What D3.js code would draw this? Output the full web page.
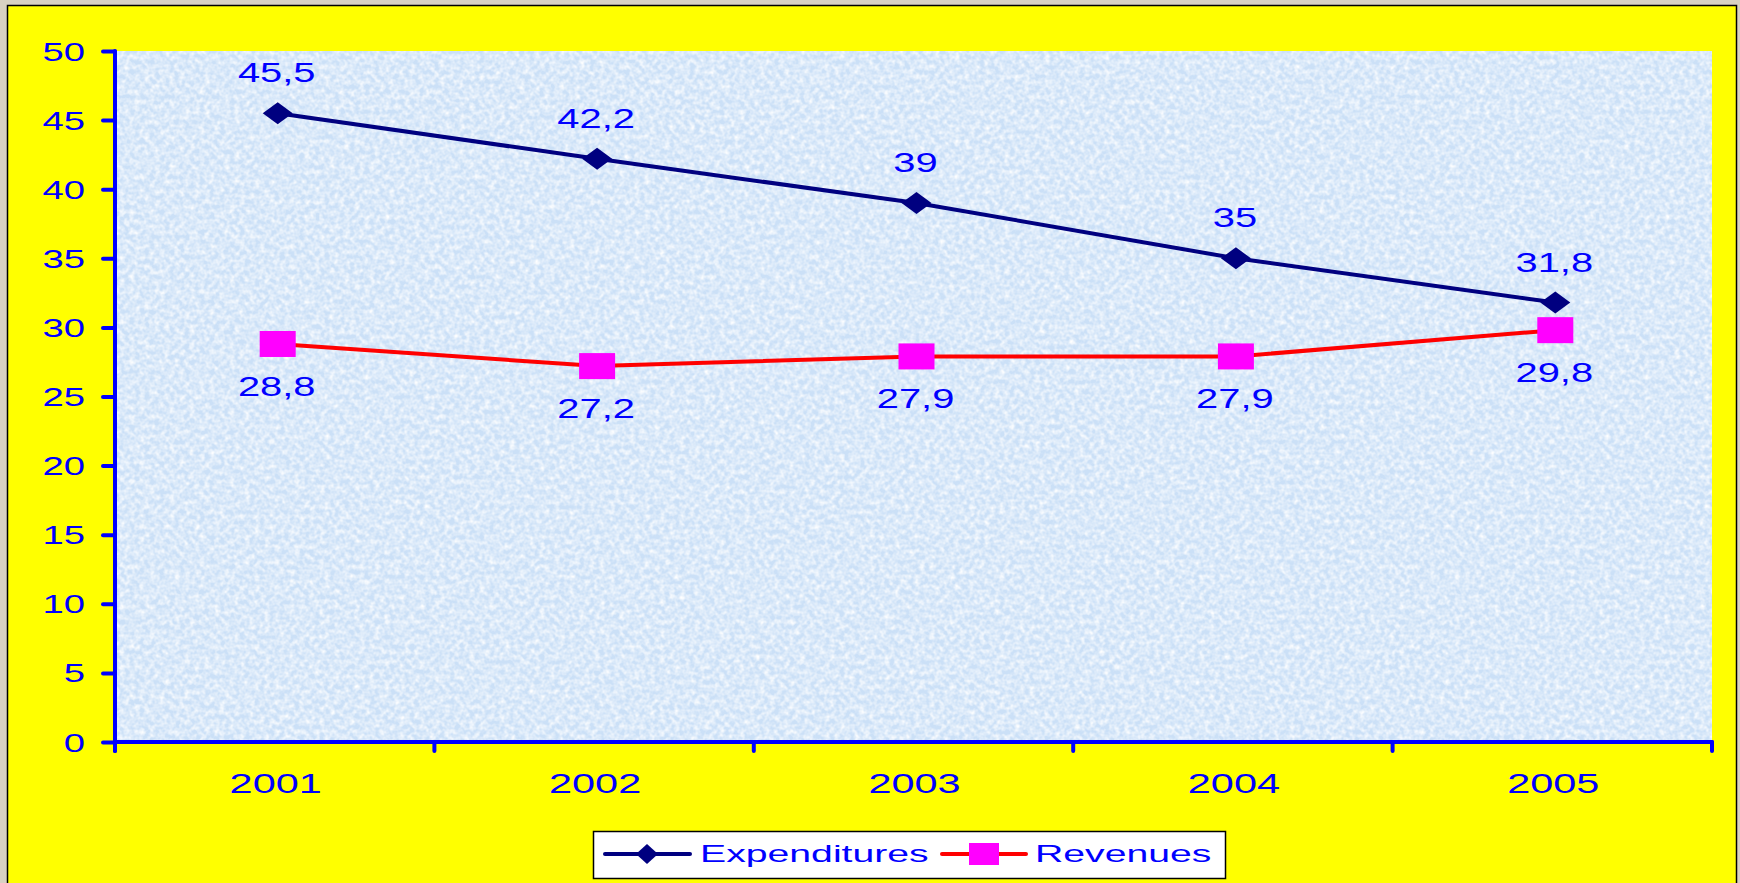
<!DOCTYPE html>
<html>
<head>
<meta charset="utf-8">
<script src="https://cdn.jsdelivr.net/npm/d3@7"></script>
<style>
  html, body { margin: 0; padding: 0; background: #d8d1c2; }
  svg { display: block; }
  text { font-family: "Liberation Sans", Arial, sans-serif; fill: #0000ff; }
</style>
</head>
<body>
<svg id="chart" width="1740" height="883"></svg>
<script>
// Budget figures by year
const years = ["2001", "2002", "2003", "2004", "2005"];
const expenditures = [45.5, 42.2, 39, 35, 31.8];
const revenues = [28.8, 27.2, 27.9, 27.9, 29.8];
const yTicks = [0, 5, 10, 15, 20, 25, 30, 35, 40, 45, 50];
const seriesNames = ["Expenditures", "Revenues"];

const W = 1740, H = 883;
const plot = { left: 115, right: 1712, top: 51, bottom: 742 };
const BLUE = "#0000ff", NAVY = "#000080", RED = "#ff0000", MAGENTA = "#ff00ff";
const fmt = d => String(d).replace(".", ",");

const svg = d3.select("#chart");
const defs = svg.append("defs");

// mottled light-blue fill for the plotting area
const f = defs.append("filter").attr("id", "mottle")
  .attr("x", 0).attr("y", 0).attr("width", "100%").attr("height", "100%");
f.append("feTurbulence").attr("type", "fractalNoise")
  .attr("baseFrequency", 0.2).attr("numOctaves", 2).attr("seed", 7).attr("result", "n");
f.append("feColorMatrix").attr("in", "n").attr("type", "matrix")
  .attr("values", "0 0 0 0 1  0 0 0 0 1  0 0 0 0 1  1.7 0 0 0 -0.55");

// page backdrop and yellow chart frame
svg.append("rect").attr("width", W).attr("height", H).attr("fill", "#d8d1c2");
svg.append("rect").attr("x", 7.5).attr("y", 5.5).attr("width", 1729).attr("height", 900)
  .attr("fill", "#ffff00").attr("stroke", "#000").attr("stroke-width", 1.5);

const x = d3.scaleBand().domain(years).range([plot.left, plot.right]).padding(0);
const y = d3.scaleLinear().domain([0, 50]).range([plot.bottom, plot.top]);
// marks sit a hair right of the band centre
const cx = d => x(d) + x.bandwidth() / 2 + 3;

// plot area
svg.append("rect").attr("x", plot.left).attr("y", plot.top)
  .attr("width", plot.right - plot.left).attr("height", plot.bottom - plot.top)
  .attr("fill", "#cbe0f7");
svg.append("rect").attr("x", plot.left).attr("y", plot.top)
  .attr("width", plot.right - plot.left).attr("height", plot.bottom - plot.top)
  .attr("fill", "#fff").attr("filter", "url(#mottle)");

// y axis
const yAxis = svg.append("g").attr("transform", `translate(${plot.left},0)`)
  .call(d3.axisLeft(y).tickValues(yTicks).tickSize(12).tickSizeOuter(0).tickFormat(d3.format("d")));
yAxis.select(".domain").remove();
yAxis.selectAll(".tick line").attr("stroke", BLUE).attr("stroke-width", 4).attr("stroke-linecap", "round");
yAxis.selectAll(".tick text")
  .attr("x", null).attr("dy", null)
  .attr("text-anchor", "end")
  .attr("font-size", 25.5)
  .attr("transform", "translate(-30,9) scale(1.5,1)")
  .style("fill", BLUE);
yAxis.append("line").attr("x1", 0).attr("x2", 0).attr("y1", plot.top).attr("y2", plot.bottom + 9)
  .attr("stroke", BLUE).attr("stroke-width", 4).attr("stroke-linecap", "round");

// x axis: labels centred in bands, ticks on the band boundaries
const xAxis = svg.append("g").attr("transform", `translate(0,${plot.bottom})`)
  .call(d3.axisBottom(x).tickSize(0).tickSizeOuter(0));
xAxis.select(".domain").remove();
xAxis.selectAll(".tick text")
  .attr("y", null).attr("dy", null)
  .attr("text-anchor", "middle")
  .attr("font-size", 28)
  .attr("transform", "translate(1,51) scale(1.48,1)")
  .style("fill", BLUE);
const bounds = years.map(d => x(d)).concat([plot.right]);
svg.append("line").attr("x1", plot.left).attr("x2", plot.right)
  .attr("y1", plot.bottom).attr("y2", plot.bottom)
  .attr("stroke", BLUE).attr("stroke-width", 4).attr("stroke-linecap", "round");
svg.selectAll(".xb").data(bounds).enter().append("line")
  .attr("x1", d => d).attr("x2", d => d)
  .attr("y1", plot.bottom).attr("y2", plot.bottom + 9)
  .attr("stroke", BLUE).attr("stroke-width", 4).attr("stroke-linecap", "round");

// series
const line = d3.line().x((d, i) => cx(years[i])).y(d => y(d));
svg.append("path").datum(revenues).attr("d", line)
  .attr("fill", "none").attr("stroke", RED).attr("stroke-width", 4);
svg.append("path").datum(expenditures).attr("d", line)
  .attr("fill", "none").attr("stroke", NAVY).attr("stroke-width", 4);

const diamond = (w, h) => `M${-w / 2},0L0,${-h / 2}L${w / 2},0L0,${h / 2}Z`;

svg.selectAll(".exp-mark").data(expenditures).enter().append("path")
  .attr("d", diamond(30, 22))
  .attr("transform", (d, i) => `translate(${cx(years[i])},${y(d)})`)
  .attr("fill", NAVY);
svg.selectAll(".rev-mark").data(revenues).enter().append("rect")
  .attr("x", (d, i) => cx(years[i]) - 18).attr("y", d => y(d) - 13)
  .attr("width", 36).attr("height", 26)
  .attr("fill", MAGENTA);

// value labels
svg.selectAll(".exp-lab").data(expenditures).enter().append("text")
  .attr("text-anchor", "middle").attr("font-size", 27.5)
  .attr("transform", (d, i) => `translate(${cx(years[i]) - 1},${y(d) - 31}) scale(1.45,1)`)
  .text(fmt);
svg.selectAll(".rev-lab").data(revenues).enter().append("text")
  .attr("text-anchor", "middle").attr("font-size", 27.5)
  .attr("transform", (d, i) => `translate(${cx(years[i]) - 1},${y(d) + 52}) scale(1.45,1)`)
  .text(fmt);

// legend
const lg = svg.append("g");
lg.append("rect").attr("x", 593.5).attr("y", 831.5).attr("width", 632).attr("height", 47)
  .attr("fill", "#fff").attr("stroke", "#000").attr("stroke-width", 1.5);
const ly = 854;
lg.append("line").attr("x1", 605).attr("x2", 690).attr("y1", ly).attr("y2", ly)
  .attr("stroke", NAVY).attr("stroke-width", 4).attr("stroke-linecap", "round");
lg.append("path").attr("d", diamond(22, 20)).attr("transform", `translate(647,${ly})`).attr("fill", NAVY);
lg.append("text").attr("font-size", 24.5)
  .attr("transform", `translate(700,${ly + 8}) scale(1.6,1)`).text(seriesNames[0]);
lg.append("line").attr("x1", 942).attr("x2", 1026).attr("y1", ly).attr("y2", ly)
  .attr("stroke", RED).attr("stroke-width", 4).attr("stroke-linecap", "round");
lg.append("rect").attr("x", 969).attr("y", ly - 11).attr("width", 30).attr("height", 22).attr("fill", MAGENTA);
lg.append("text").attr("font-size", 24.5)
  .attr("transform", `translate(1035,${ly + 8}) scale(1.6,1)`).text(seriesNames[1]);
</script>
</body>
</html>
